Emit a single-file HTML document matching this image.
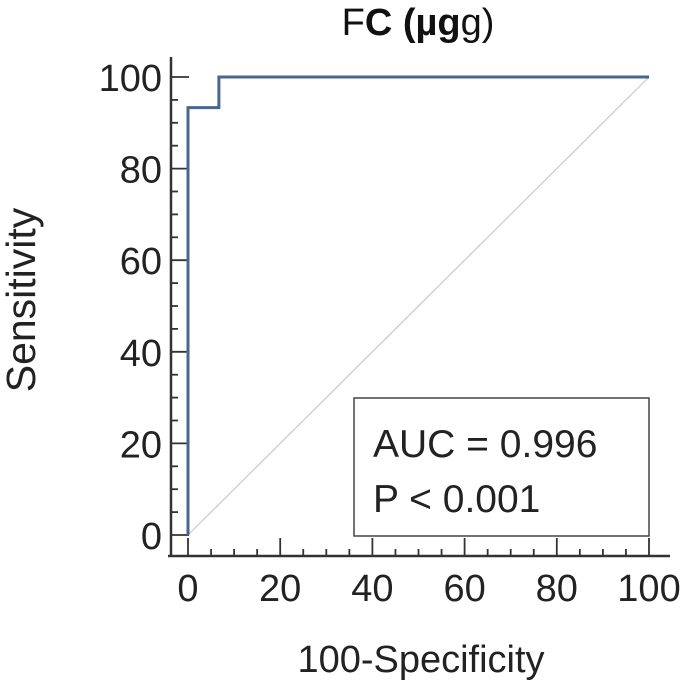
<!DOCTYPE html>
<html><head><meta charset="utf-8"><style>
body{margin:0;background:#fff}
svg{display:block;font-family:"Liberation Sans",Arial,sans-serif}
</style></head><body>
<svg id="c" width="685" height="685" viewBox="0 0 685 685">
<text x="418" y="35" text-anchor="middle" font-size="38" fill="#111">F<tspan font-weight="bold">C (µg</tspan>g)</text>
<text transform="translate(35,300) rotate(-90)" text-anchor="middle" font-size="41" fill="#222">Sensitivity</text>
<text x="421" y="672" text-anchor="middle" font-size="38" fill="#222">100-Specificity</text>
<g id="axes"></g>
<g id="plot"></g>
<rect x="354" y="398" width="295" height="138" fill="#fff" stroke="#444" stroke-width="1.5"/>
<text x="373" y="457" font-size="39" fill="#222">AUC = 0.996</text>
<text x="373" y="512" font-size="39" fill="#222">P &lt; 0.001</text>
</svg>
<script>
const fprValues=[0,0,6.7,6.7,100];
const tprValues=[0,93.3,93.3,100,100];
const tickLabels=[0,20,40,60,80,100];
const NS='http://www.w3.org/2000/svg';
const X0=188,X1=649,Y0=535,Y1=77;
function sx(v){return X0+(X1-X0)*v/100;}
function sy(v){return Y0-(Y0-Y1)*v/100;}
function mk(t,a,p){const e=document.createElementNS(NS,t);for(const k in a)e.setAttribute(k,a[k]);p.appendChild(e);return e;}
const ax=document.getElementById('axes'),pl=document.getElementById('plot');
let l=mk('line',{x1:168,y1:556,x2:670,y2:556,stroke:'#333','stroke-width':2.5},ax);


l=mk('line',{x1:171,y1:57,x2:171,y2:556,stroke:'#333','stroke-width':2.5},ax);


for(let v=0;v<=100;v+=5){
 const major=v%20===0;
 let t=mk('line',{x1:sx(v),y1:556,x2:sx(v),y2:556-(major?18:7),stroke:'#333','stroke-width':1.8},ax);
 
 
 t=mk('line',{x1:171,y1:sy(v),x2:171+(major?18:7),y2:sy(v),stroke:'#333','stroke-width':1.8},ax);
 
 
}
tickLabels.forEach(v=>{
 let t=mk('text',{x:sx(v),y:601,'text-anchor':'middle','font-size':38,fill:'#222'},ax);t.textContent=v;
 
 
 t=mk('text',{x:162,y:sy(v)+14,'text-anchor':'end','font-size':38,fill:'#222'},ax);t.textContent=v;
 
 
});
l=mk('line',{x1:sx(0),y1:sy(0),x2:sx(100),y2:sy(100),stroke:'#c8c8c8','stroke-width':1.2},pl);


const pts=fprValues.map((f,i)=>sx(f)+','+sy(tprValues[i])).join(' ');
l=mk('polyline',{points:pts,fill:'none',stroke:'#4a6590','stroke-width':3},pl);


</script>
</body></html>
